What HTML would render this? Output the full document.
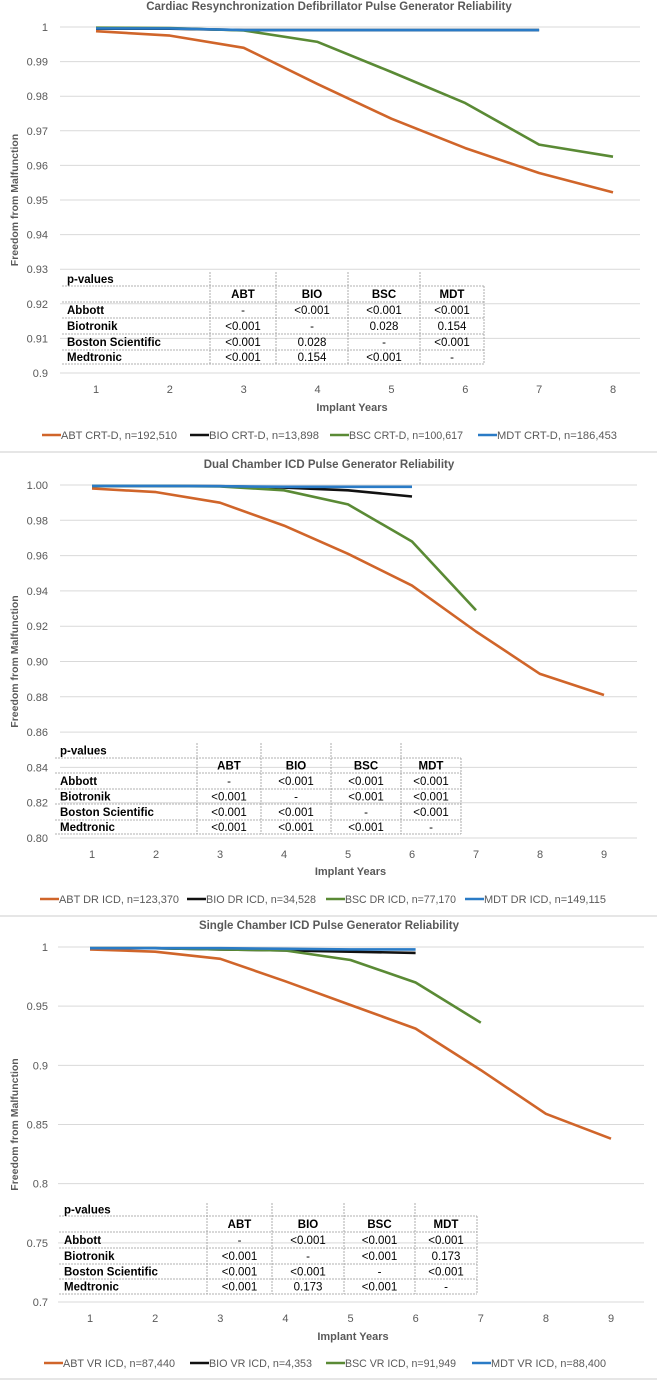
<!DOCTYPE html>
<html><head><meta charset="utf-8">
<style>
html,body{margin:0;padding:0;background:#fff;}
svg{display:block;font-family:"Liberation Sans",sans-serif;}
</style></head>
<body>
<svg id="c" width="657" height="1382" viewBox="0 0 657 1382"></svg>
<script>
// ---- Chart 1: CRT-D ----
const c1Years = [1,2,3,4,5,6,7,8];
const c1Abt = [0.9988,0.9975,0.994,0.9835,0.9735,0.965,0.9578,0.9522];
const c1Bio = [0.9995,0.9995,0.9991,0.9991,0.9991,0.9991,0.9991];
const c1Bsc = [0.9998,0.9997,0.999,0.9957,0.987,0.978,0.966,0.9625];
const c1Mdt = [0.9996,0.9996,0.9991,0.9991,0.9991,0.9991,0.9991];
const c1Ticks = ["1","0.99","0.98","0.97","0.96","0.95","0.94","0.93","0.92","0.91","0.9"];
const c1Legend = ["ABT CRT-D, n=192,510","BIO CRT-D, n=13,898","BSC CRT-D, n=100,617","MDT CRT-D, n=186,453"];
const c1P = [["Abbott","-","<0.001","<0.001","<0.001"],["Biotronik","<0.001","-","0.028","0.154"],["Boston Scientific","<0.001","0.028","-","<0.001"],["Medtronic","<0.001","0.154","<0.001","-"]];
// ---- Chart 2: DR ICD ----
const c2Years = [1,2,3,4,5,6,7,8,9];
const c2Abt = [0.998,0.996,0.990,0.977,0.961,0.943,0.917,0.893,0.881];
const c2Bio = [0.9995,0.9995,0.9993,0.9985,0.997,0.9935];
const c2Bsc = [0.9995,0.9995,0.9992,0.997,0.989,0.968,0.929];
const c2Mdt = [0.9995,0.9995,0.9993,0.999,0.999,0.999];
const c2Ticks = ["1.00","0.98","0.96","0.94","0.92","0.90","0.88","0.86","0.84","0.82","0.80"];
const c2Legend = ["ABT DR ICD, n=123,370","BIO DR ICD, n=34,528","BSC DR ICD, n=77,170","MDT DR ICD, n=149,115"];
const c2P = [["Abbott","-","<0.001","<0.001","<0.001"],["Biotronik","<0.001","-","<0.001","<0.001"],["Boston Scientific","<0.001","<0.001","-","<0.001"],["Medtronic","<0.001","<0.001","<0.001","-"]];
// ---- Chart 3: VR ICD ----
const c3Years = [1,2,3,4,5,6,7,8,9];
const c3Abt = [0.998,0.996,0.990,0.971,0.951,0.931,0.896,0.859,0.838];
const c3Bio = [0.999,0.999,0.998,0.997,0.996,0.995];
const c3Bsc = [0.999,0.999,0.998,0.997,0.989,0.970,0.936];
const c3Mdt = [0.999,0.999,0.999,0.9985,0.998,0.998];
const c3Ticks = ["1","0.95","0.9","0.85","0.8","0.75","0.7"];
const c3Legend = ["ABT VR ICD, n=87,440","BIO VR ICD, n=4,353","BSC VR ICD, n=91,949","MDT VR ICD, n=88,400"];
const c3P = [["Abbott","-","<0.001","<0.001","<0.001"],["Biotronik","<0.001","-","<0.001","0.173"],["Boston Scientific","<0.001","<0.001","-","<0.001"],["Medtronic","<0.001","0.173","<0.001","-"]];

const colors = ["#d0652a","#111111","#5a8a35","#2a7bc6"];
const NS = "http://www.w3.org/2000/svg";
const svg = document.getElementById('c');
function mk(tag, attrs, parent){const e=document.createElementNS(NS,tag);for(const k in attrs)e.setAttribute(k,attrs[k]);(parent||svg).appendChild(e);return e;}
function txt(s,attrs,parent){const t=mk('text',attrs,parent);t.textContent=s;return t;}

function drawChart(cfg){
  const g = mk('g',{});
  
  
  const yv = v => cfg.yTop + (cfg.yMax - v)/(cfg.yMax-cfg.yMin)*(cfg.yBot-cfg.yTop);
  const xv = yr => cfg.x1 + (yr-1)*(cfg.x9-cfg.x1)/(cfg.years.length-1);
  const t = txt(cfg.title,{x:329,y:cfg.titleY,'text-anchor':'middle','font-size':'11.5','font-weight':'bold',fill:'#595959'},g);
  
  
  const n = cfg.ticks.length;
  cfg.ticks.forEach((lab,i)=>{
    const v = cfg.yMax - i*(cfg.yMax-cfg.yMin)/(n-1);
    const y = yv(v);
    const l = mk('line',{x1:cfg.gx0,x2:cfg.gx1,y1:y,y2:y,stroke:'#d9d9d9','stroke-width':1},g);
    
    
    const tt = txt(lab,{x:48,y:y+4,'text-anchor':'end','font-size':'11',fill:'#595959'},g);
    
    
  });
  cfg.years.forEach(yr=>{
    const tt = txt(String(yr),{x:xv(yr),y:cfg.xTickY,'text-anchor':'middle','font-size':'11',fill:'#595959'},g);
    
    
  });
  const xt = txt('Implant Years',{x:(cfg.gx0+cfg.gx1)/2+2,y:cfg.xTitleY,'text-anchor':'middle','font-size':'11','font-weight':'bold',fill:'#595959'},g);
  
  
  const ymid=(cfg.yTop+cfg.yBot)/2;
  const yt = txt('Freedom from Malfunction',{x:18,y:ymid,transform:`rotate(-90 18 ${ymid})`,'text-anchor':'middle','font-size':'10.5','font-weight':'bold',fill:'#595959'},g);
  
  
  [0,1,2,3].forEach(si=>{
    const d = cfg.series[si];
    const pts = d.map((v,i)=>xv(cfg.years[i]).toFixed(1)+','+yv(v).toFixed(1)).join(' ');
    const p = mk('polyline',{points:pts,fill:'none',stroke:colors[si],'stroke-width':2.6,'stroke-linejoin':'round'},g);
    
    
  });
  const tb = mk('g',{},g);
  
  
  const cx=cfg.tCols, ry=cfg.tRows;
  const dash={stroke:'#999','stroke-width':0.8,'stroke-dasharray':'2,1'};
  for(let i=1;i<ry.length;i++) mk('line',Object.assign({x1:cx[0],x2:cx[cx.length-1],y1:ry[i],y2:ry[i]},dash),tb);
  for(let j=1;j<cx.length-1;j++) mk('line',Object.assign({x1:cx[j],x2:cx[j],y1:ry[0],y2:ry[ry.length-1]},dash),tb);
  mk('line',Object.assign({x1:cx[cx.length-1],x2:cx[cx.length-1],y1:ry[1],y2:ry[ry.length-1]},dash),tb);
  const fs='11.5';
  txt('p-values',{x:cx[0]+5,y:(ry[0]+ry[1])/2+4,'font-size':fs,'font-weight':'bold',fill:'#000'},tb);
  ["ABT","BIO","BSC","MDT"].forEach((h,j)=>txt(h,{x:(cx[j+1]+cx[j+2])/2,y:(ry[1]+ry[2])/2+4,'text-anchor':'middle','font-size':fs,'font-weight':'bold',fill:'#000'},tb));
  cfg.pvals.forEach((row,i)=>{
    const y=(ry[i+2]+ry[i+3])/2+4;
    txt(row[0],{x:cx[0]+5,y:y,'font-size':fs,'font-weight':'bold',fill:'#000'},tb);
    for(let j=1;j<5;j++) txt(row[j],{x:(cx[j]+cx[j+1])/2,y:y,'text-anchor':'middle','font-size':fs,fill:'#000'},tb);
  });
  cfg.legend.forEach((lab,i)=>{
    const lg = mk('g',{},g);
    
    
    const lx=cfg.legX[i];
    mk('line',{x1:lx,x2:lx+19,y1:cfg.legY,y2:cfg.legY,stroke:colors[i],'stroke-width':2.6},lg);
    txt(lab,{x:lx+19,y:cfg.legY+4,'font-size':'11',fill:'#595959',textLength:cfg.legW[i],lengthAdjust:'spacingAndGlyphs'},lg);
  });
  if(cfg.sepY) mk('line',{x1:0,x2:657,y1:cfg.sepY,y2:cfg.sepY,stroke:'#e6e6e6','stroke-width':2},g);
}

drawChart({name:'crt-d-chart',title:'Cardiac Resynchronization Defibrillator Pulse Generator Reliability',titleY:10,
  years:c1Years,series:[c1Abt,c1Bio,c1Bsc,c1Mdt],ticks:c1Ticks,yMax:1,yMin:0.9,yTop:27,yBot:373,
  gx0:60,gx1:640,x1:96,x9:613,xTickY:393,xTitleY:411,legY:435,sepY:452,
  legX:[42,190,330,478],legW:[116,110,114,120],
  tCols:[62,210,276,348,420,484],tRows:[272,286,302,318,334,350,364],pvals:c1P,legend:c1Legend});
drawChart({name:'dr-icd-chart',title:'Dual Chamber ICD Pulse Generator Reliability',titleY:468,
  years:c2Years,series:[c2Abt,c2Bio,c2Bsc,c2Mdt],ticks:c2Ticks,yMax:1,yMin:0.8,yTop:485,yBot:838,
  gx0:60,gx1:637,x1:92,x9:604,xTickY:858,xTitleY:875,legY:899,sepY:916,
  legX:[40,187,326,465],legW:[120,110,111,122],
  tCols:[55,197,261,331,401,461],tRows:[743,758,773,789,804,820,834],pvals:c2P,legend:c2Legend});
drawChart({name:'vr-icd-chart',title:'Single Chamber ICD Pulse Generator Reliability',titleY:929,
  years:c3Years,series:[c3Abt,c3Bio,c3Bsc,c3Mdt],ticks:c3Ticks,yMax:1,yMin:0.7,yTop:947,yBot:1302,
  gx0:58,gx1:644,x1:90,x9:611,xTickY:1322,xTitleY:1340,legY:1363,sepY:1379,
  legX:[44,190,326,472],legW:[112,103,111,115],
  tCols:[59,207,272,344,415,477],tRows:[1203,1216,1232,1248,1264,1279,1294],pvals:c3P,legend:c3Legend});
</script>
</body></html>
